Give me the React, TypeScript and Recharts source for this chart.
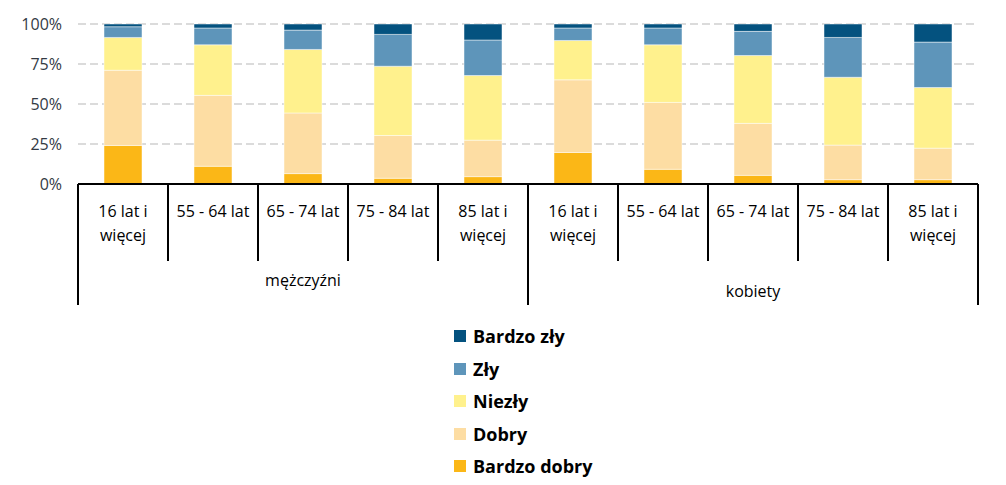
import { BarChart, Bar, XAxis, YAxis, CartesianGrid, Legend } from "recharts";

// kategorie wiekowe (etykiety w dwóch liniach)
const categories = [
  "16 lat i|więcej",
  "55 - 64 lat",
  "65 - 74 lat",
  "75 - 84 lat",
  "85 lat i|więcej",
  "16 lat i|więcej",
  "55 - 64 lat",
  "65 - 74 lat",
  "75 - 84 lat",
  "85 lat i|więcej",
];
const groups = ["mężczyźni", "mężczyźni", "mężczyźni", "mężczyźni", "mężczyźni", "kobiety", "kobiety", "kobiety", "kobiety", "kobiety"];

// udziały w %
const bardzoDobry = [24.1, 11.1, 6.5, 3.6, 4.6, 19.7, 9.2, 5.4, 2.7, 2.7];
const dobry = [47.0, 44.3, 37.9, 26.7, 22.8, 45.4, 41.8, 32.5, 21.6, 19.7];
const niezly = [20.5, 31.6, 39.7, 43.3, 40.4, 24.6, 36.0, 42.4, 42.4, 37.9];
const zly = [6.7, 10.5, 12.1, 19.9, 22.2, 7.8, 10.5, 15.1, 24.9, 28.4];
const bardzoZly = [1.7, 2.5, 3.8, 6.5, 10.0, 2.5, 2.5, 4.6, 8.4, 11.3];

const yTicks = [0, 0.25, 0.5, 0.75, 1];

const SERIES = [
  { key: "bd", name: "Bardzo dobry", color: "#FBB717" },
  { key: "d", name: "Dobry", color: "#FDDDA3" },
  { key: "n", name: "Niezły", color: "#FFF18D" },
  { key: "z", name: "Zły", color: "#5E95BA" },
  { key: "bz", name: "Bardzo zły", color: "#04527F" },
];

const data = categories.map((c, i) => ({
  cat: c,
  group: groups[i],
  bd: bardzoDobry[i],
  d: dobry[i],
  n: niezly[i],
  z: zly[i],
  bz: bardzoZly[i],
}));

const LABEL_FONT = "'Open Sans', sans-serif";

function CategoryTick(props: any) {
  const { x, y, payload, index } = props;
  const half = payload && payload.offset ? payload.offset : 45;
  const lines = String(payload.value).split("|");
  const isGroupStart = index === 0 || groups[index] !== groups[index - 1];
  const isLast = index === categories.length - 1;
  const groupNames = Array.from(new Set(groups));
  const gi = groupNames.indexOf(groups[index]);
  const members = groups.filter((g) => g === groups[index]).length;
  const firstIdx = groups.indexOf(groups[index]);
  const middleIdx = firstIdx + Math.floor(members / 2);
  const showGroup = index === middleIdx;
  const groupX = members % 2 === 0 ? x - half : x;
  return (
    <g>
      <line x1={x - half} x2={x - half} y1={y} y2={y + (isGroupStart ? 121 : 77)} stroke="#000" strokeWidth={2} />
      {isLast && <line x1={x + half} x2={x + half} y1={y} y2={y + 121} stroke="#000" strokeWidth={2} />}
      {lines.map((l, i) => (
        <text key={i} x={x} y={y + 33 + i * 24} textAnchor="middle" fill="#000" fontSize={16} fontFamily={LABEL_FONT}>
          {l}
        </text>
      ))}
      {showGroup && (
        <text x={groupX} y={y + (gi === 0 ? 102 : 113)} textAnchor="middle" fill="#000" fontSize={16} fontFamily={LABEL_FONT}>
          {groups[index]}
        </text>
      )}
    </g>
  );
}

function LegendContent() {
  const items = [...SERIES].reverse();
  return (
    <div style={{ fontFamily: LABEL_FONT }}>
      {items.map((s) => (
        <div key={s.key} style={{ display: "flex", alignItems: "center", height: 32.5 }}>
          <span style={{ width: 12, height: 12, background: s.color, display: "inline-block", marginRight: 7 }} />
          <span style={{ fontWeight: 700, fontSize: 18, color: "#000" }}>{s.name}</span>
        </div>
      ))}
    </div>
  );
}

export default function App() {
  return (
    <div style={{ position: "absolute", left: 0, top: 0, background: "#fff" }}>
      <BarChart
        width={1006}
        height={485}
        data={data}
        stackOffset="expand"
        margin={{ top: 24, right: 28, left: 0, bottom: 171 }}
      >
        <CartesianGrid vertical={false} stroke="#D0D0D0" strokeDasharray="8 4" strokeWidth={1.5} />
        <XAxis
          dataKey="cat"
          interval={0}
          height={130}
          tickLine={false}
          tickSize={0}
          tickMargin={0}
          axisLine={{ stroke: "#000", strokeWidth: 2 }}
          tick={<CategoryTick />}
        />
        <YAxis
          width={78}
          domain={[0, 1]}
          ticks={yTicks}
          axisLine={false}
          tickLine={false}
          tickSize={6}
          tickMargin={10}
          tickFormatter={(v: number) => `${Math.round(v * 100)}%`}
          tick={{ fill: "#333a44", fontSize: 16, fontFamily: LABEL_FONT }}
        />
        <Legend
          layout="vertical"
          align="center"
          verticalAlign="middle"
          wrapperStyle={{ top: 320, left: 454, width: 200 }}
          content={<LegendContent />}
        />
        {SERIES.map((s) => (
          <Bar
            key={s.key}
            dataKey={s.key}
            name={s.name}
            stackId="a"
            fill={s.color}
            stroke="#ffffff"
            strokeOpacity={0.6}
            strokeWidth={0.8}
            barSize={38}
            isAnimationActive={false}
          />
        ))}
      </BarChart>
    </div>
  );
}
